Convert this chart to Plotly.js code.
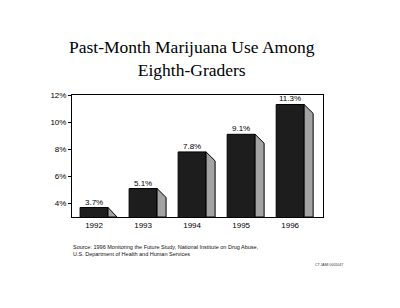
<!DOCTYPE html>
<html><head><meta charset="utf-8">
<script src="https://cdn.plot.ly/plotly-3.0.1.min.js"></script>
<style>html,body{margin:0;padding:0;background:#fff}#c{width:400px;height:308px}</style>
</head><body><div id="c"></div>
<script>
const years = ['1992','1993','1994','1995','1996'];
const usePct = [3.7, 5.1, 7.8, 9.1, 11.3];
const yTicks = [4, 6, 8, 10, 12];
const yTickText = ['4%','6%','8%','10%','12%'];

const yMin = 3, yMax = 12;
const barW = 0.57, dx = 0.184, dy = 0.66;
const xs = years.map((_, i) => i);

const traces = [];
xs.forEach((x, i) => {
  const v = usePct[i];
  const xr = x + barW / 2;
  const yb = Math.max(yMin, v - dy);
  const fx = yb > yMin ? [xr, xr + dx, xr + dx, xr, xr] : [xr, xr + dx * (v - yMin) / dy, xr, xr];
  const fy = yb > yMin ? [v, v - dy, yMin, yMin, v] : [v, yMin, yMin, v];
  traces.push({type:'scatter', mode:'lines', x: fx, y: fy, fill:'toself',
    fillcolor:'#a3a3a3', line:{color:'#000', width:1}, hoverinfo:'skip', showlegend:false, cliponaxis:false});
});
traces.push({type:'bar', x: xs, y: usePct, width: barW, base: 0,
  marker:{color:'#1d1d1d', line:{color:'#000', width:1}}, showlegend:false});

const labelFont = {family:'Liberation Sans, Arial, sans-serif', size:8, color:'#000'};
const valueAnns = xs.map((x, i) => ({x: x, y: usePct[i], xref:'x', yref:'y', xanchor:'center', yanchor:'bottom',
  yshift:-1, showarrow:false, text: usePct[i].toFixed(1) + '%', font: labelFont}));

const layout = {
  width:400, height:308, paper_bgcolor:'#fff', plot_bgcolor:'#fff',
  margin:{l:72, r:77, t:95, b:91},
  showlegend:false,
  xaxis:{range:[-0.45, 4.67], tickvals: xs, ticktext: years, showgrid:false, zeroline:false,
    showline:true, mirror:true, linecolor:'#000', linewidth:1, ticks:'',
    tickfont: labelFont, fixedrange:true},
  yaxis:{range:[yMin, yMax], tickvals: yTicks, ticktext: yTickText, showgrid:false, zeroline:false,
    showline:true, mirror:true, linecolor:'#000', linewidth:1, ticks:'outside', ticklen:3, tickcolor:'#000',
    tickfont: labelFont, fixedrange:true},
  annotations: valueAnns.concat([
    {xref:'paper', yref:'paper', x:(192-72)/251, y:(308-59-91)/122, xanchor:'center', yanchor:'middle', showarrow:false,
     text:'Past-Month Marijuana Use Among<br>Eighth-Graders', align:'center',
     font:{family:'Liberation Serif, Times New Roman, serif', size:17.5, color:'#000'}},
    {xref:'paper', yref:'paper', x:(71-72)/251, y:(308-250-91)/122, xanchor:'left', yanchor:'middle', showarrow:false,
     align:'left', text:'Source: 1996 Monitoring the Future Study, National Institute on Drug Abuse,<br>U.S. Department of Health and Human Services',
     font:{family:'Liberation Sans, Arial, sans-serif', size:5.5, color:'#111'}},
    {xref:'paper', yref:'paper', x:(345-72)/251, y:(308-265-91)/122, xanchor:'right', yanchor:'middle', showarrow:false,
     text:'CT JAMI 0001047', font:{family:'Liberation Sans, Arial, sans-serif', size:3.5, color:'#333'}}
  ])
};
Plotly.newPlot('c', traces, layout, {staticPlot:true, displayModeBar:false});
</script></body></html>
